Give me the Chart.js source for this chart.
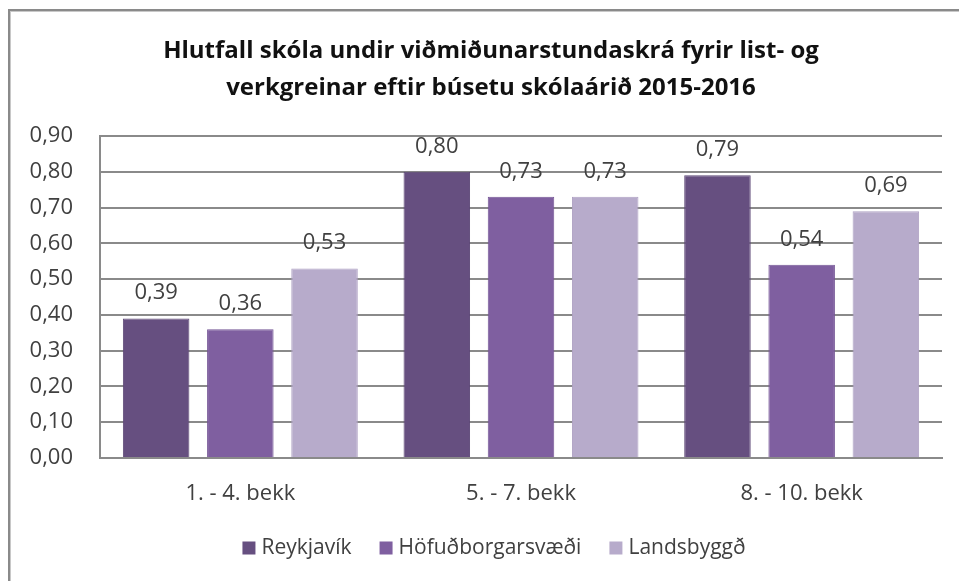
<!DOCTYPE html>
<html>
<head>
<meta charset="utf-8">
<script src="https://cdn.jsdelivr.net/npm/chart.js@4/dist/chart.umd.min.js"></script>
<style>
  html, body { margin: 0; padding: 0; background: #fff; width: 959px; height: 581px; overflow: hidden; }
  #frame { position: absolute; left: 8px; top: 9px; width: 1200px; height: 1200px;
           border-left: 2px solid #8a8a8a; border-top: 2px solid #8a8a8a;
           box-shadow: inset 1px 1px 0 #c8c8c8; }
  #wrap { position: absolute; left: 0; top: 0; width: 959px; height: 581px; }
</style>
</head>
<body>
<div id="frame"></div>
<div id="wrap"><canvas id="c" width="959" height="581"></canvas></div>
<script>
const titleLines = [
  "Hlutfall skóla undir viðmiðunarstundaskrá fyrir list- og",
  "verkgreinar eftir búsetu skólaárið 2015-2016"
];
const categories = ["1. - 4. bekk", "5. - 7. bekk", "8. - 10. bekk"];
const seriesNames = ["Reykjavík", "Höfuðborgarsvæði", "Landsbyggð"];
const reykjavik = [0.39, 0.80, 0.79];
const hofudborgarsvaedi = [0.36, 0.73, 0.54];
const landsbyggd = [0.53, 0.73, 0.69];
const yTicks = [0, 0.1, 0.2, 0.3, 0.4, 0.5, 0.6, 0.7, 0.8, 0.9];
const colors = ["#664f80", "#7f5fa0", "#b7abcb"];
const borderColors = ["#5d4876", "#745595", "#aea1c3"];

const FONT = "'Open Sans', Lato, sans-serif";
const fmt = v => v.toFixed(2).replace('.', ',');

const customPlugin = {
  id: 'custom',
  afterDatasetsDraw(chart) {
    const ctx = chart.ctx;
    ctx.save();
    ctx.font = "22px " + FONT;
    ctx.fillStyle = "#404040";
    ctx.textAlign = "center";
    ctx.textBaseline = "alphabetic";
    chart.data.datasets.forEach((ds, i) => {
      const meta = chart.getDatasetMeta(i);
      meta.data.forEach((el, j) => {
        ctx.fillText(fmt(ds.data[j]), el.x, el.y - 19);
      });
    });
    ctx.restore();
  },
  afterDraw(chart) {
    const ctx = chart.ctx;
    ctx.save();
    // Title
    ctx.font = "bold 24px " + FONT;
    ctx.fillStyle = "#111";
    ctx.textAlign = "center";
    ctx.textBaseline = "alphabetic";
    ctx.fillText(titleLines[0], 491, 58);
    ctx.fillText(titleLines[1], 491, 95);
    // Legend
    ctx.font = "21px " + FONT;
    ctx.textAlign = "left";
    ctx.textBaseline = "middle";
    const box = 13, gapText = 6, gapItem = 28;
    const widths = seriesNames.map(n => ctx.measureText(n).width);
    const total = widths.reduce((a, w) => a + box + gapText + w, 0) + gapItem * (seriesNames.length - 1);
    let x = 494 - total / 2;
    const y = 548;
    chart.data.datasets.forEach((ds, i) => {
      ctx.fillStyle = ds.backgroundColor;
      ctx.fillRect(x, y - box / 2, box, box);
      ctx.fillStyle = "#404040";
      ctx.fillText(ds.label, x + box + gapText, y);
      x += box + gapText + widths[i] + gapItem;
    });
    ctx.restore();
  }
};

const seriesData = [reykjavik, hofudborgarsvaedi, landsbyggd];

new Chart(document.getElementById('c'), {
  type: 'bar',
  data: {
    labels: categories,
    datasets: seriesNames.map((name, i) => ({
      label: name,
      data: seriesData[i],
      backgroundColor: colors[i],
      borderColor: borderColors[i],
      borderWidth: 1,
      categoryPercentage: 0.9,
      barPercentage: 0.79
    }))
  },
  options: {
    responsive: false,
    animation: false,
    devicePixelRatio: 1,
    layout: { padding: { top: 136, left: 0, right: 17, bottom: 63 } },
    plugins: {
      legend: { display: false },
      title: { display: false },
      tooltip: { enabled: false }
    },
    scales: {
      x: {
        grid: { display: false, drawTicks: false },
        border: { display: true, color: "#8a8a8a", width: 2 },
        ticks: { color: "#404040", font: { family: FONT, size: 22 }, padding: 23 },
        afterFit(scale) { scale.height = 60; }
      },
      y: {
        min: 0, max: 0.9,
        afterBuildTicks(scale) { scale.ticks = yTicks.map(v => ({ value: v })); },
        grid: { color: "#8a8a8a", lineWidth: 2, drawTicks: false },
        border: { display: true, color: "#8a8a8a", width: 2 },
        ticks: { color: "#404040", font: { family: FONT, size: 22 }, padding: 27,
                 callback: v => fmt(v) },
        afterFit(scale) { scale.width = 100; }
      }
    }
  },
  plugins: [customPlugin]
});
</script>
</body>
</html>
